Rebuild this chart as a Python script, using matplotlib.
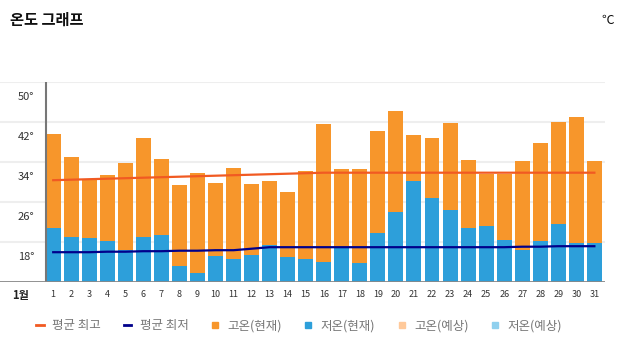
import matplotlib.pyplot as plt
from matplotlib.lines import Line2D
import numpy as np

plt.rcParams['font.family'] = ['Noto Sans CJK KR', 'DejaVu Sans']

days = np.arange(1, 32)
high_now = [39.5, 34.9, 30.5, 31.3, 33.8, 38.7, 34.5, 29.3, 31.7, 29.7, 32.7, 29.5, 30.2, 27.9, 32.1, 41.5,
            32.5, 32.5, 40.1, 44.1, 39.3, 38.7, 41.7, 34.3, 31.5, 31.5, 34.1, 37.7, 41.9, 42.9, 34.1]
low_now = [20.8, 19.0, 18.7, 18.1, 16.3, 19.0, 19.4, 13.2, 11.8, 15.2, 14.5, 15.4, 17.4, 15.0, 14.5, 14.0,
           17.0, 13.7, 19.7, 23.9, 30.2, 26.7, 24.3, 20.8, 21.2, 18.3, 16.4, 18.1, 21.5, 17.7, 17.7]
avg_high = [30.3, 30.4, 30.5, 30.6, 30.7, 30.8, 30.9, 31.0, 31.1, 31.2, 31.3, 31.4, 31.5, 31.6, 31.7, 31.8,
            31.8, 31.8, 31.8, 31.8, 31.8, 31.8, 31.8, 31.8, 31.8, 31.8, 31.8, 31.8, 31.8, 31.8, 31.8]
avg_low = [15.9, 15.9, 15.9, 16.0, 16.0, 16.1, 16.1, 16.2, 16.2, 16.3, 16.3, 16.6, 16.9, 16.9, 16.9, 16.9,
           16.9, 16.9, 16.9, 16.9, 16.9, 16.9, 16.9, 16.9, 16.9, 16.9, 17.0, 17.0, 17.1, 17.1, 17.1]
y_ticks = [18, 26, 34, 42, 50]

c_high = '#F7962B'
c_low = '#2D9FDA'
c_high_fc = '#FFC99A'
c_low_fc = '#8FD0EE'
c_avg_high = '#F15A22'
c_avg_low = '#00008B'

fig = plt.figure(figsize=(6.25, 3.56), dpi=100)
ax = fig.add_axes([0, 74.3 / 356, 605 / 625, 200 / 356])

ax.bar(days, high_now, width=0.83, color=c_high, zorder=2)
ax.bar(days, low_now, width=0.83, color=c_low, zorder=3)
ax.plot(days, avg_high, color=c_avg_high, lw=1.6, zorder=4)
ax.plot(days, avg_low, color=c_avg_low, lw=1.6, zorder=4)

ax.set_xlim(-1.95, 31.59)
ax.set_ylim(10, 50)
for v in y_ticks:
    ax.axhline(v, color='#eeeeee', lw=1.5, zorder=1)
    ax.text(-0.95, v - 3, f'{v}°', fontsize=8, color='#333333', va='center', ha='left')
ax.plot([0.584, 0.584], [10, 50], color='#777777', lw=1.5, zorder=5)
ax.axhline(10, color='#888888', lw=2, zorder=5)

for s in ax.spines.values():
    s.set_visible(False)
ax.set_yticks([])
ax.set_xticks(days)
ax.set_xticklabels([str(d) for d in days], fontsize=6.5, color='#333333')
ax.tick_params(axis='x', length=0, pad=6)
ax.text(-1.3, 10, '1월', fontsize=8, color='#222222', va='top', ha='left',
        transform=ax.transData, fontweight='bold').set_y(10 - 1.4)

fig.text(10 / 625, 1 - 20 / 356, '온도 그래프', fontsize=11, fontweight='bold', color='#111111', va='center')
fig.text(608 / 625, 1 - 20 / 356, '℃', fontsize=9, color='#111111', va='center', ha='center')

handles = [
    Line2D([], [], color=c_avg_high, lw=2),
    Line2D([], [], color=c_avg_low, lw=2),
    Line2D([], [], ls='', marker='s', ms=5, color=c_high),
    Line2D([], [], ls='', marker='s', ms=5, color=c_low),
    Line2D([], [], ls='', marker='s', ms=5, color=c_high_fc),
    Line2D([], [], ls='', marker='s', ms=5, color=c_low_fc),
]
labels = ['평균 최고', '평균 최저', '고온(현재)', '저온(현재)', '고온(예상)', '저온(예상)']
leg = fig.legend(handles, labels, loc='center', bbox_to_anchor=(299 / 625, 1 - 326 / 356), ncol=6,
                 frameon=False, fontsize=9, handlelength=0.6, handletextpad=0.7, columnspacing=1.8)
for t in leg.get_texts():
    t.set_color('#777777')

fig.savefig('out.png', dpi=100)
